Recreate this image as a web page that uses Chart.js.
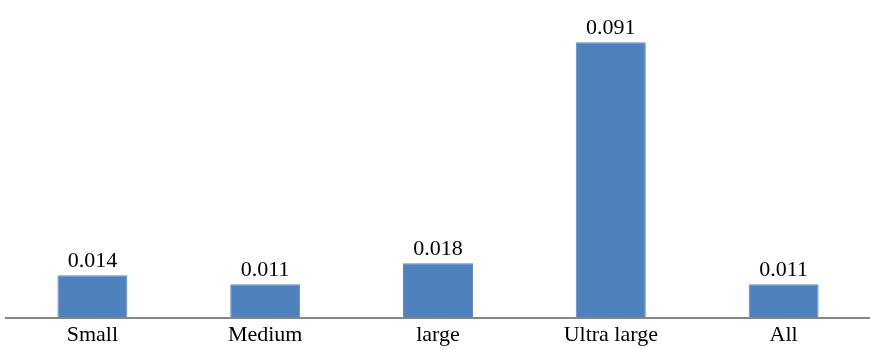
<!DOCTYPE html>
<html>
<head>
<meta charset="utf-8">
<script src="https://cdn.jsdelivr.net/npm/chart.js@4"></script>
<style>
  html, body { margin: 0; padding: 0; background: #fff; }
  #wrap { width: 870px; height: 350px; position: relative; }
</style>
</head>
<body>
<div id="wrap"><canvas id="chart"></canvas></div>
<script>
// categories and values
const CATEGORIES = ["Small", "Medium", "large", "Ultra large", "All"];
const VALUES = [0.014, 0.011, 0.018, 0.091, 0.011];
const VALUE_LABELS = ["0.014", "0.011", "0.018", "0.091", "0.011"];

const FONT = "'Liberation Serif', 'Times New Roman', serif";

// draws the number above each bar
const valueLabels = {
  id: "valueLabels",
  afterDatasetsDraw(chart) {
    const ctx = chart.ctx;
    const meta = chart.getDatasetMeta(0);
    ctx.save();
    ctx.font = `22px ${FONT}`;
    ctx.fillStyle = "#000";
    ctx.textAlign = "center";
    ctx.textBaseline = "alphabetic";
    meta.data.forEach((bar, i) => {
      ctx.fillText(VALUE_LABELS[i], bar.x, bar.y - 8);
    });
    ctx.restore();
  },
};

new Chart(document.getElementById("chart"), {
  type: "bar",
  data: {
    labels: CATEGORIES,
    datasets: [{
      data: VALUES,
      backgroundColor: "#4f81bd",
      borderColor: "#5b8cc6",
      borderWidth: 1,
      categoryPercentage: 1,
      barPercentage: 0.405,
    }],
  },
  options: {
    responsive: true, maintainAspectRatio: false, animation: false,
    // slight negative bottom lets the labels sit lower, as in the reference
    layout: { padding: { left: 6, right: 0, top: 15, bottom: -2 } },
    plugins: { legend: { display: false }, tooltip: { enabled: false } },
    scales: {
      x: {
        grid: { display: false, drawTicks: false },
        border: { color: "#868686", width: 2 },
        ticks: { color: "#000", font: { family: FONT, size: 22 }, padding: 4 },
      },
      y: { display: false, min: 0, max: 0.1 },
    },
  },
  plugins: [valueLabels],
});
</script>
</body>
</html>
